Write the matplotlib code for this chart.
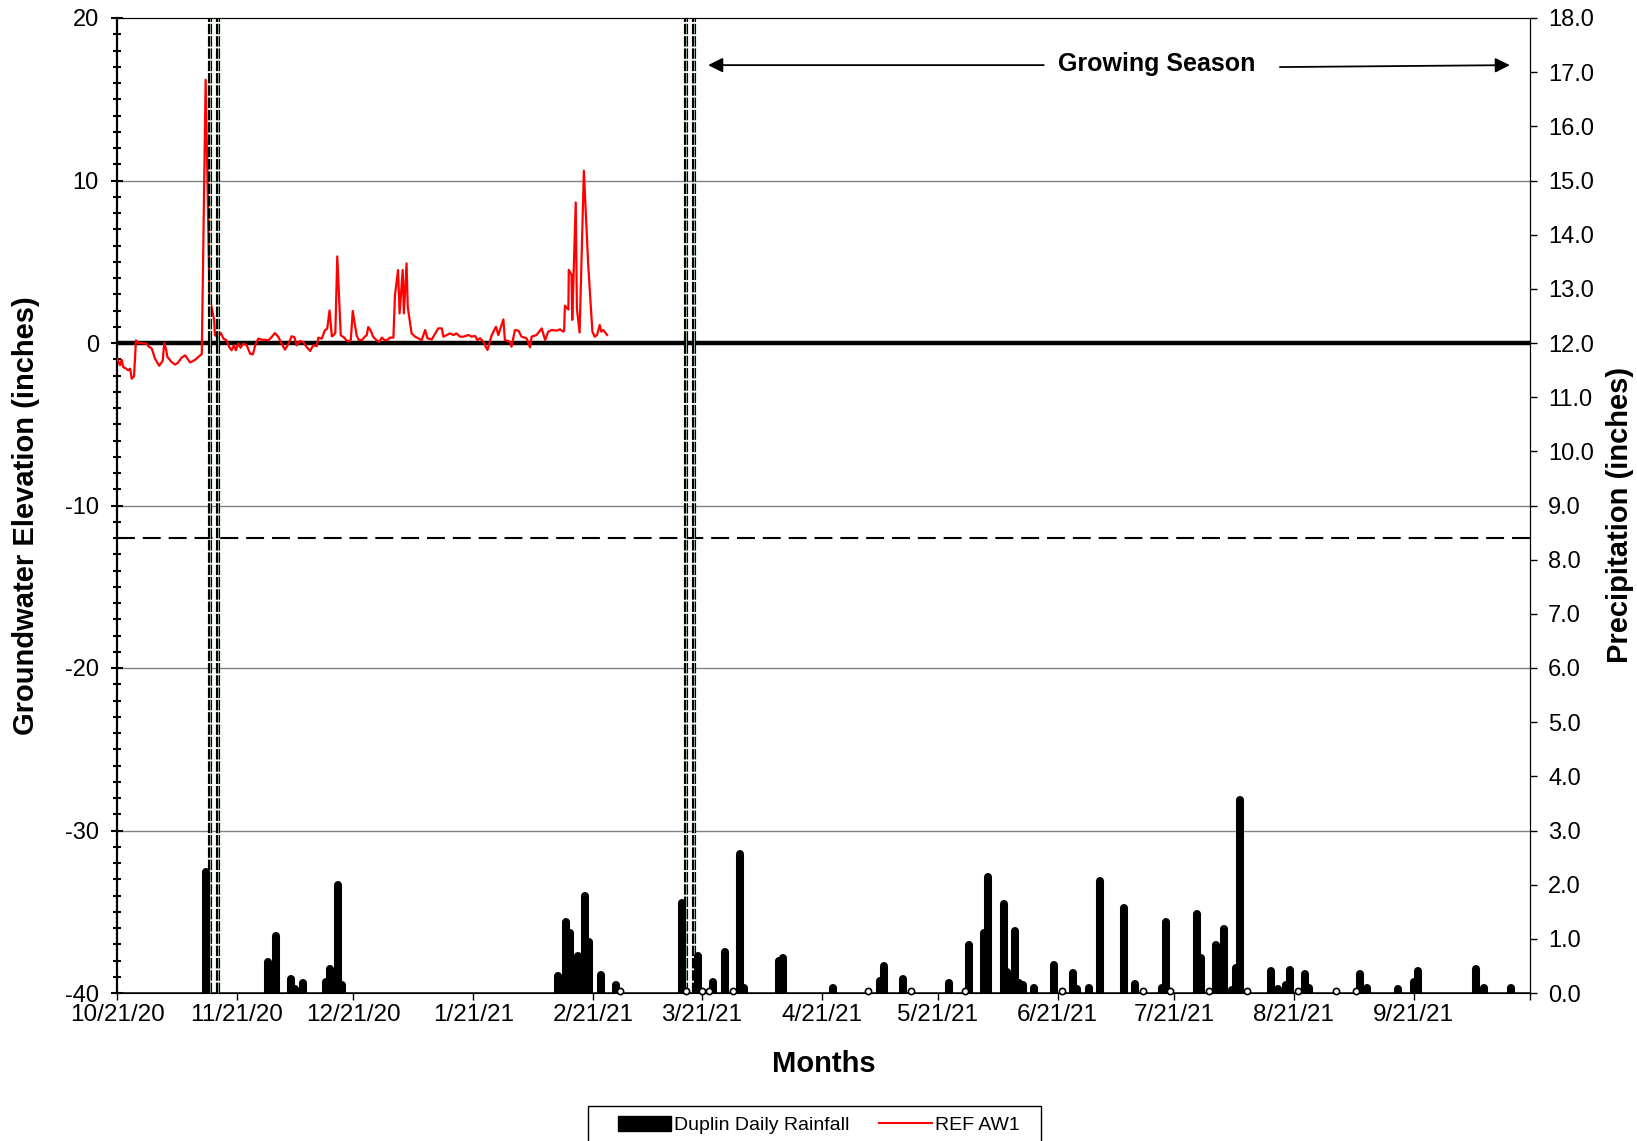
import matplotlib
matplotlib.use('Agg')
import matplotlib.pyplot as plt
from matplotlib.patches import Patch, Rectangle
from matplotlib.lines import Line2D
from matplotlib.ticker import MultipleLocator, FormatStrFormatter
import pandas as pd

plt.rcParams['font.family'] = ['Liberation Sans', 'DejaVu Sans']
plt.rcParams['axes.unicode_minus'] = False

START = pd.Timestamp('2020-10-21')
END = pd.Timestamp('2021-10-21')

# Groundwater (REF AW1), day offsets from 10/21/20 and inches
gw_day = [0.0, 0.8, 1.2, 1.6, 2.1, 2.9, 3.4, 3.8, 4.4, 4.9, 5.5, 7.7, 8.1, 9.0, 9.8,
          10.9, 11.8, 12.2, 12.7, 13.0, 14.1, 15.0, 15.8, 16.7, 17.6, 18.2, 18.9, 20.2,
          21.0, 21.9, 22.9, 23.9, 25.1, 25.3, 26.2, 26.8, 27.5, 28.3, 29.0, 29.6, 30.2,
          30.7, 31.3, 31.9, 32.6, 33.5, 34.4, 35.1, 35.7, 36.5, 37.4, 38.2, 39.1, 39.8,
          40.8, 41.7, 42.5, 43.4, 44.3, 45.1, 45.8, 46.4, 47.3, 48.1, 49.0, 49.9, 50.7,
          51.6, 52.0, 52.9, 53.7, 54.3, 54.9, 55.5, 55.9, 56.4, 56.9, 57.8, 58.5, 59.3,
          60.0, 60.4, 60.9, 61.9, 62.4, 63.2, 64.1, 64.5, 64.9, 65.5, 66.2, 67.1, 67.7,
          68.4, 69.0, 69.7, 70.5, 71.4, 71.8, 72.6, 73.0, 73.8, 74.1, 74.8, 75.1, 76.1,
          77.0, 77.8, 78.7, 79.6, 80.2, 81.3, 83.0, 83.9, 84.3, 85.2, 86.0, 86.9, 87.7,
          88.6, 89.5, 90.8, 91.6, 92.5, 93.1, 93.8, 94.6, 95.7, 96.8, 97.9, 98.5, 99.8,
          100.2, 101.5, 101.9, 102.8, 103.7, 104.5, 105.8, 106.7, 107.1, 108.4, 109.7,
          110.6, 111.4, 112.3, 113.6, 114.4, 115.3, 115.5, 115.7, 116.6, 116.7, 117.4,
          117.6, 118.5, 118.8, 119.5, 120.6, 121.7, 122.8, 123.4, 124.0, 124.7, 125.1,
          125.6, 126.6]
gw_val = [-0.96, -1.37, -1.03, -1.48, -1.54, -1.68, -1.58, -2.20, -2.05, 0.16, 0.00, -0.04,
          -0.20, -0.35, -0.95, -1.40, -1.10, 0.00, -0.40, -0.85, -1.17, -1.33, -1.20, -0.90,
          -0.76, -0.96, -1.20, -1.03, -0.86, -0.68, 16.20, 2.83, 1.40, 0.47, 0.41, 0.62,
          0.27, 0.16, -0.25, -0.45, -0.14, -0.45, -0.04, -0.29, -0.04, -0.14, -0.66, -0.70,
          -0.14, 0.27, 0.20, 0.20, 0.16, 0.33, 0.61, 0.37, -0.04, -0.41, -0.04, 0.41, 0.37,
          -0.14, 0.12, 0.06, -0.25, -0.49, -0.14, -0.20, 0.33, 0.27, 0.78, 0.88, 2.00, 0.41,
          0.47, 0.62, 5.33, 0.47, 0.37, 0.16, 0.10, 0.20, 1.97, 0.47, 0.20, 0.16, 0.41, 0.47,
          0.98, 0.78, 0.37, 0.16, 0.06, 0.33, 0.20, 0.16, 0.33, 0.33, 2.93, 4.49, 1.82, 4.49,
          1.82, 4.90, 2.23, 0.59, 0.39, 0.29, 0.18, 0.80, 0.29, 0.22, 0.90, 0.90, 0.39, 0.49,
          0.59, 0.49, 0.59, 0.39, 0.39, 0.49, 0.39, 0.43, 0.18, 0.29, 0.08, -0.43, 0.49, 1.00,
          0.49, 1.45, 0.18, 0.08, -0.23, 0.80, 0.76, 0.39, 0.29, -0.27, 0.39, 0.49, 0.90,
          0.18, 0.70, 0.80, 0.76, 0.84, 0.70, 0.75, 2.30, 2.05, 4.50, 4.20, 1.42, 8.65, 2.10,
          0.64, 10.60, 4.90, 0.70, 0.39, 0.49, 1.11, 0.70, 0.80, 0.49]

# Duplin daily rainfall, day offsets from 10/21/20 and inches
rain_day = [23, 39, 41, 45, 46, 48, 54, 55, 57, 58, 114, 116, 117, 119, 121, 122, 125, 129,
            146, 150, 154, 157, 161, 162, 171, 172, 185, 197, 198, 203, 215, 220, 224, 225,
            229, 230, 232, 233, 234, 237, 242, 247, 248, 251, 254, 260, 263, 270, 271, 279,
            280, 284, 286, 288, 289, 290, 298, 300, 302, 303, 307, 308, 321, 323, 331, 335,
            336, 351, 353, 360]
rain_val = [2.23, 0.57, 1.06, 0.26, 0.08, 0.18, 0.20, 0.44, 2.00, 0.15, 0.31, 1.32, 1.10,
            0.68, 1.80, 0.95, 0.34, 0.14, 1.66, 0.68, 0.20, 0.75, 2.57, 0.10, 0.60, 0.64,
            0.10, 0.23, 0.49, 0.26, 0.18, 0.89, 1.11, 2.14, 1.64, 0.38, 1.14, 0.18, 0.15,
            0.09, 0.52, 0.37, 0.07, 0.10, 2.07, 1.57, 0.17, 0.09, 1.32, 1.46, 0.65, 0.89,
            1.19, 0.05, 0.46, 3.57, 0.41, 0.07, 0.15, 0.43, 0.35, 0.09, 0.35, 0.10, 0.07,
            0.21, 0.40, 0.45, 0.10, 0.09]
# days with zero rainfall shown as small rings
zero_day = [130, 147, 151, 153, 159, 194, 205, 219, 244, 265, 272, 282, 292, 305, 315, 320]

xtick_dates = ['2020-10-21', '2020-11-21', '2020-12-21', '2021-01-21', '2021-02-21',
               '2021-03-21', '2021-04-21', '2021-05-21', '2021-06-21', '2021-07-21',
               '2021-08-21', '2021-09-21', '2021-10-21']
xtick_labels = ['10/21/20', '11/21/20', '12/21/20', '1/21/21', '2/21/21', '3/21/21',
                '4/21/21', '5/21/21', '6/21/21', '7/21/21', '8/21/21', '9/21/21', '']

marker_days = [24, 26, 147, 149]        # vertical double-dashed lines
threshold = -12                          # 12 inches below surface
season_left = (152.7, 239.4)             # growing season arrow (head, tail) day offsets
season_right = (300.4, 359.8)
season_text_day = 268.6


def to_date(d):
    return START + pd.to_timedelta(d, unit='D')


fig = plt.figure(figsize=(16.37, 11.41), dpi=100)
ax = fig.add_axes([117 / 1637, 1 - 993 / 1141, 1413 / 1637, 975 / 1141])
ax2 = ax.twinx()

# left axis
ax.set_xlim(START, END)
ax.set_ylim(-40, 20)
for y in [10, -10, -20, -30]:
    ax.axhline(y, color='#808080', lw=1.0, zorder=1)
ax.axhline(0, color='black', lw=3.2, zorder=3)
ax.axhline(threshold, color='black', lw=1.5, linestyle=(0, (8.6, 3.8)), zorder=3)

gw_dates = [to_date(d) for d in gw_day]
ax.plot(gw_dates, gw_val, color='#ff0000', lw=1.6, zorder=6)

for d in marker_days:
    ax.axvline(to_date(d), color='black', lw=3.0, linestyle=(0, (2.5, 0.45)), zorder=7)
    ax.axvline(to_date(d), color='#cdeccd', lw=0.5, zorder=8)

ax.set_yticks(range(-40, 21, 10))
ax.yaxis.set_minor_locator(MultipleLocator(1))
ax.tick_params(axis='y', which='major', direction='inout', length=8, width=1.5,
               labelsize=17, pad=9)
ax.tick_params(axis='y', which='minor', direction='inout', length=6, width=1.5)
ax.set_xticks([pd.Timestamp(t) for t in xtick_dates])
ax.set_xticklabels(xtick_labels)
ax.tick_params(axis='x', which='major', direction='out', length=5, width=1.0,
               labelsize=17.5, pad=3)
ax.set_ylabel('Groundwater Elevation (inches)', fontsize=21, fontweight='bold')
ax.yaxis.set_label_coords(-0.0547, 0.49)
ax.set_xlabel('Months', fontsize=21, fontweight='bold')
ax.xaxis.set_label_coords(0.5, -0.0585)
ax.spines['left'].set_linewidth(1.6)
ax.spines['bottom'].set_linewidth(1.1)
ax.spines['top'].set_linewidth(0.8)
ax.spines['right'].set_linewidth(0.8)

# right axis: rainfall
ax2.set_ylim(0, 18)
rain_dates = [to_date(d) for d in rain_day]
ax2.vlines(rain_dates, 0, rain_val, colors='black', lw=5.8, capstyle='round', zorder=4)
ax2.scatter([to_date(d) for d in zero_day], [0.03] * len(zero_day), s=20,
            facecolors='white', edgecolors='black', linewidths=1.2, zorder=5,
            clip_on=False)
ax2.set_yticks(range(0, 19))
ax2.yaxis.set_major_formatter(FormatStrFormatter('%.1f'))
ax2.tick_params(axis='y', direction='out', length=5, width=1.0, labelsize=17, pad=8)
ax2.set_ylabel('Precipitation (inches)', fontsize=21, fontweight='bold')
ax2.yaxis.set_label_coords(1.0536, 0.49)
ax2.spines['left'].set_visible(False)
ax2.spines['right'].set_linewidth(0.8)

# growing season annotation
arrow_kw = dict(arrowstyle='-|>', color='black', lw=1.3, mutation_scale=22,
                shrinkA=0, shrinkB=0)
ax.annotate('', xy=(to_date(season_left[0]), 17.1), xytext=(to_date(season_left[1]), 17.1),
            arrowprops=arrow_kw, zorder=9)
ax.annotate('', xy=(to_date(season_right[1]), 17.1), xytext=(to_date(season_right[0]), 16.98),
            arrowprops=arrow_kw, zorder=9)
ax.text(to_date(season_text_day), 17.2, 'Growing Season', fontsize=18, fontweight='bold',
        ha='center', va='center', zorder=9,
        family=['Liberation Sans Narrow', 'Liberation Sans', 'DejaVu Sans'])

# legend (frame drawn separately so it runs off the bottom edge like the reference)
fig.patches.append(Rectangle((588 / 1637, -0.02), 453 / 1637, 0.02 + 1 - 1106 / 1141,
                             transform=fig.transFigure, facecolor='white',
                             edgecolor='black', lw=1.0, zorder=0))
handles = [Patch(facecolor='black', edgecolor='black'),
           Line2D([0], [0], color='#ff0000', lw=1.5)]
leg = fig.legend(handles, ['Duplin Daily Rainfall', 'REF AW1'], loc='upper center',
                 bbox_to_anchor=(819 / 1637, 1 - 1106 / 1141), ncol=2, fontsize=14,
                 frameon=False, handlelength=2.7, handleheight=0.8, handletextpad=0.15,
                 columnspacing=1.55, borderpad=0.5, borderaxespad=0)

fig.savefig('out.png', dpi=100)
